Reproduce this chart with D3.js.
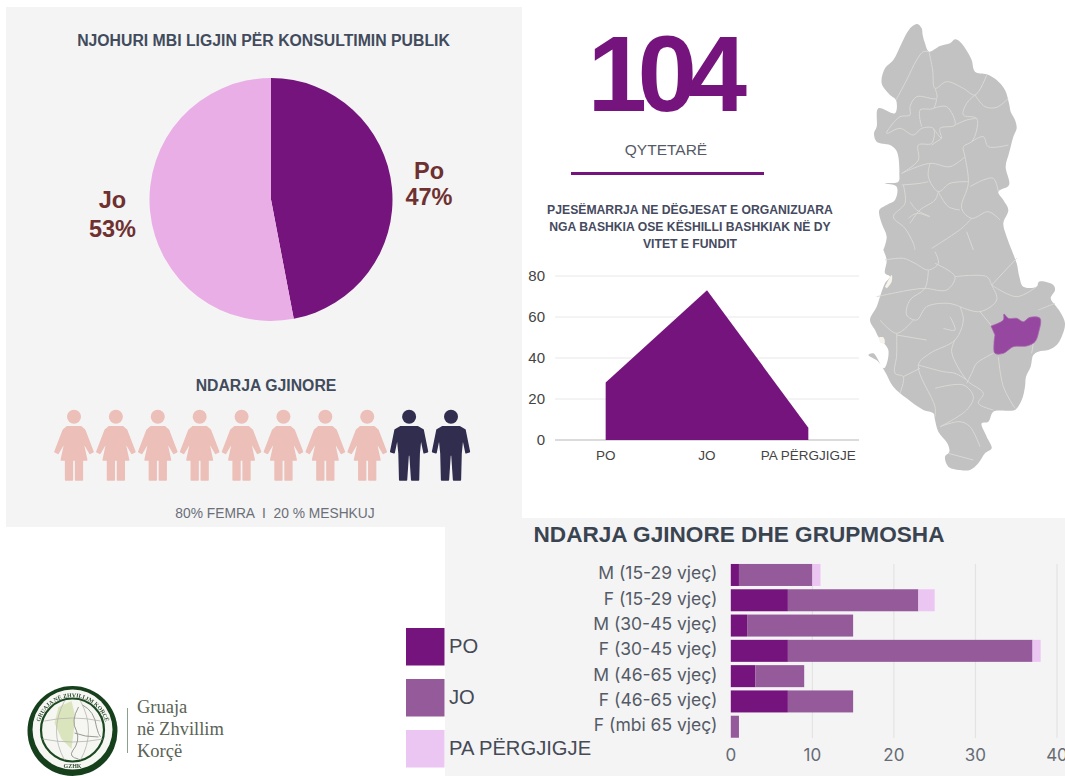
<!DOCTYPE html>
<html lang="sq">
<head>
<meta charset="utf-8">
<script src="https://cdn.jsdelivr.net/npm/d3@7/dist/d3.min.js"></script>
<style>
html,body{margin:0;padding:0;background:#fff;overflow:hidden}
svg{display:block}
text{font-family:"Liberation Sans",Arial,sans-serif}
</style>
</head>
<body>
<svg id="c" width="1065" height="776"></svg>
<script>
// ---------- data ----------
const pieLabels = ["Po", "Jo"];
const pieValues = [47, 53];
const genderIcons = ["F","F","F","F","F","F","F","F","M","M"];
const areaCategories = ["PO", "JO", "PA PËRGJIGJE"];
const areaValues = [28, 73, 6];
const areaTicks = [0, 20, 40, 60, 80];
const barCategories = ["M (15-29 vjeç)","F (15-29 vjeç)","M (30-45 vjeç)","F (30-45 vjeç)","M (46-65 vjeç)","F (46-65 vjeç)","F (mbi 65 vjeç)"];
const barPo = [1, 7, 2, 7, 3, 7, 0];
const barJo = [9, 16, 13, 30, 6, 8, 1];
const barPa = [1, 2, 0, 1, 0, 0, 0];
const barSeries = ["PO", "JO", "PA PËRGJIGJE"];
const barTicks = [0, 10, 20, 30, 40];
const seriesColors = ["#74147c", "#945a9a", "#ecc6f2"];

// map (upper part z6, lower part z7 coordinates)
const mapOutlineUpper = [[172,42],[185,55],[188,75],[195,100],[207,125],[240,108],[270,100],[285,88],[300,95],[322,125],[335,150],[345,185],[380,193],[410,210],[435,240],[448,285],[452,305],[465,330],[470,355],[460,380],[452,410],[447,430],[437,470],[447,525],[415,545],[430,570],[445,600],[430,640],[440,680],[455,720]];
const mapOutlineLower = [[470,70],[478,110],[490,140],[530,140],[537,125],[580,135],[585,150],[572,175],[585,195],[600,215],[615,250],[605,290],[590,315],[565,330],[535,335],[520,345],[512,380],[498,410],[495,440],[485,480],[465,510],[440,512],[400,515],[385,545],[365,550],[380,590],[395,625],[375,640],[355,670],[330,690],[300,690],[265,680],[255,650],[268,635],[262,610],[235,575],[225,540],[220,520],[190,510],[140,475],[100,440],[75,395],[55,365],[25,345],[40,340],[72,385],[85,330],[55,290],[45,270],[30,240],[50,200],[60,170],[75,130],[90,110],[75,100],[80,60],[70,30]];
const mapOutlineCoast = [[70,720],[80,680],[65,640],[58,600],[80,585],[105,570],[110,530],[75,520],[115,515],[118,490],[115,440],[108,420],[90,405],[50,395],[42,370],[50,350],[55,295],[105,310],[108,270],[90,255],[65,220],[75,175],[100,150],[125,100],[140,70],[155,50]];
const mapBordersUpper = [
 [[108,270],[140,210],[170,150],[190,125],[207,125]],
 [[207,125],[218,180],[225,235],[260,215],[310,235],[345,255],[380,195]],
 [[345,255],[375,290],[410,292],[445,265]],
 [[225,235],[230,265],[170,260],[150,290],[150,315],[120,320],[95,345],[80,370],[120,355],[160,375],[185,355],[220,355],[215,400],[175,405],[175,450],[125,490]],
 [[230,265],[220,295],[180,300],[185,350]],
 [[220,295],[260,290],[285,345],[240,355],[245,385],[220,355]],
 [[345,255],[320,280],[310,315],[350,325],[350,360],[335,395],[310,410],[315,440],[325,520],[305,595],[335,625],[385,605],[420,630]],
 [[285,345],[320,330],[350,325]],
 [[335,395],[370,380],[385,410],[445,405]],
 [[245,385],[215,405]],
 [[315,440],[270,470],[210,460],[125,490]],
 [[210,460],[205,500],[235,545],[270,520],[325,515]],
 [[330,530],[370,510],[400,505],[415,545]],
 [[235,545],[265,590],[300,600]],
 [[125,525],[180,520],[205,515]],
 [[130,525],[135,580],[100,620],[135,655],[160,700],[165,720]],
 [[235,545],[225,570],[180,600],[150,640]],
 [[150,575],[170,600],[210,620],[170,610],[145,625]],
 [[335,625],[305,655],[215,715]],
 [[320,665],[340,720]]
];
const mapBordersLower = [
 [[75,60],[130,55],[165,70],[205,90],[235,70],[225,35]],
 [[205,90],[195,145],[150,180],[140,225],[170,240],[200,200],[265,190],[300,200]],
 [[285,110],[380,110],[395,135],[410,180],[360,215],[300,200]],
 [[395,135],[470,55]],
 [[395,135],[470,170],[530,140]],
 [[360,215],[395,258]],
 [[50,170],[150,150],[195,145],[260,150],[285,110],[225,70]],
 [[300,200],[310,240],[285,300],[210,340],[175,375],[225,500],[225,530]],
 [[285,300],[275,335],[320,420],[370,460],[355,490],[400,510]],
 [[175,375],[250,395],[285,400],[320,420]],
 [[225,445],[310,435],[340,470],[320,510],[240,560]],
 [[400,340],[350,370],[335,400],[320,430]],
 [[415,350],[430,440],[465,505]],
 [[110,280],[110,345],[105,400],[130,410],[120,460]],
 [[110,285],[200,300]],
 [[60,240],[110,280],[160,240]],
 [[240,560],[300,545],[330,560],[360,620]],
 [[265,640],[340,660]],
 [[520,310],[515,340]],
 [[535,210],[560,200],[585,190]],
 [[130,410],[180,385]],
 [[270,230],[285,270],[250,265]]
];
const mapRegion = [[393,258],[430,240],[432,222],[445,235],[470,235],[490,245],[510,232],[540,235],[535,280],[525,305],[500,318],[460,320],[430,340],[405,340],[402,310],[405,285]];
const mapLagoons = [[[75,140],[95,105],[95,125],[80,145]],[[55,292],[70,292],[74,310],[60,308]]];

const femaleIcon = [[-20,30],[20,30],[32,40],[57,105],[48,110],[25,70],[38,130],[25,130],[25,190],[5,190],[5,130],[-5,130],[-5,190],[-25,190],[-25,130],[-38,130],[-25,70],[-48,110],[-57,105],[-32,40]];
const maleIcon = [[-25,30],[25,30],[42,40],[55,105],[45,108],[35,60],[30,110],[28,190],[8,190],[3,115],[-3,115],[-8,190],[-28,190],[-30,110],[-35,60],[-45,108],[-55,105],[-42,40]];

// ---------- setup ----------
const svg = d3.select("#c");
const PANEL = "#f4f4f5", INK = "#414b5c";
const soft = svg.append("defs").append("filter").attr("id","soft");
soft.append("feGaussianBlur").attr("stdDeviation",0.45);
const panels = [[6,7,516,520],[445,518,620,258]];
svg.selectAll("rect.panel").data(panels).join("rect").attr("class","panel")
  .attr("x",d=>d[0]).attr("y",d=>d[1]).attr("width",d=>d[2]).attr("height",d=>d[3]).attr("fill",PANEL);

function label(g,t,x,y,size,fill,opts={}){
  const n=g.append("text").attr("x",x).attr("y",y).attr("font-size",size).attr("fill",fill)
    .attr("text-anchor",opts.anchor||"middle").attr("font-weight",opts.weight||"normal").text(t);
  if(opts.family) n.style("font-family",opts.family);
  if(opts.spacing!=null) n.attr("letter-spacing",opts.spacing);
  return n;
}

// ---------- pie ----------
label(svg,"NJOHURI MBI LIGJIN PËR KONSULTIMIN PUBLIK",263.5,45.5,15.8,INK,{weight:"bold"});
const pieG = svg.append("g").attr("transform","translate(271,199.5)");
const arcs = d3.pie().sort(null)(pieValues);
const pieColors = d3.scaleOrdinal(pieLabels,["#74147c","#eaaee6"]);
pieG.selectAll("path").data(arcs).join("path")
  .attr("d",d3.arc().innerRadius(0).outerRadius(121.5))
  .attr("fill",(d,i)=>pieColors(pieLabels[i]));
const RED="#6f3030";
label(svg,pieLabels[0],429,179,23.5,RED,{weight:"bold"});
label(svg,pieValues[0]+"%",429,205,23.5,RED,{weight:"bold"});
label(svg,pieLabels[1],112.5,208,23.5,RED,{weight:"bold"});
label(svg,pieValues[1]+"%",112.5,237,23.5,RED,{weight:"bold"});

// ---------- gender icons ----------
label(svg,"NDARJA GJINORE",266,391,15.8,INK,{weight:"bold"});
const iconX = d3.scalePoint().domain(d3.range(genderIcons.length)).range([74,451]);
const iconLine = d3.line().x(d=>d[0]/3).y(d=>d[1]/3).curve(d3.curveLinearClosed);
const icons = svg.selectAll("g.icon").data(genderIcons).join("g").attr("class","icon")
  .attr("transform",(d,i)=>`translate(${iconX(i)},416.7)`)
  .attr("fill",d=>d==="F"?"#ecbfb8":"#312d4f").attr("stroke",d=>d==="F"?"#ecbfb8":"#312d4f");
icons.append("circle").attr("r",7).attr("stroke","none");
icons.append("path").attr("d",d=>iconLine(d==="F"?femaleIcon:maleIcon)).attr("stroke-width",1.6).attr("stroke-linejoin","round");
label(svg,"80% FEMRA  I  20 % MESHKUJ",275,517.5,13.8,"#6b6f78").attr("xml:space","preserve");

// ---------- headline ----------
label(svg,"104",662.5,110.5,107,"#74147c",{weight:"bold",spacing:-9.5});
label(svg,"QYTETARË",666,155,15.5,"#555a66");
svg.append("rect").attr("x",571).attr("y",172).attr("width",193).attr("height",3).attr("fill","#74147c");

// ---------- area chart ----------
["PJESËMARRJA NE DËGJESAT E ORGANIZUARA","NGA BASHKIA OSE KËSHILLI BASHKIAK NË DY","VITET E FUNDIT"].forEach((t,i)=>
  label(svg,t,690,214+i*17.2,12.2,"#454a60",{weight:"bold"}));
const ax = d3.scalePoint().domain(areaCategories).range([555,859]).padding(0.5);
const ay = d3.scaleLinear().domain([0,80]).range([440,276]);
const areaG = svg.append("g");
areaG.selectAll("line.g").data(areaTicks).join("line").attr("class","g")
  .attr("x1",555).attr("x2",859).attr("y1",d=>ay(d)).attr("y2",d=>ay(d))
  .attr("stroke",d=>d===0?"#cfcfcf":"#e8e8e8").attr("stroke-width",d=>d===0?1.4:1);
areaG.append("path").datum(areaValues)
  .attr("d",d3.area().x((d,i)=>ax(areaCategories[i])).y0(ay(0)).y1(d=>ay(d)))
  .attr("fill","#74147c");
areaG.selectAll("text.yt").data(areaTicks).join("text").attr("class","yt")
  .attr("x",545).attr("y",d=>ay(d)+5).attr("text-anchor","end").attr("font-size",15).attr("fill","#444").text(d=>d);
areaG.selectAll("text.xt").data(areaCategories).join("text").attr("class","xt")
  .attr("x",d=>ax(d)).attr("y",460).attr("text-anchor","middle").attr("font-size",13.5).attr("fill","#444").text(d=>d);

// ---------- map ----------
const mx = d3.scaleLinear().domain([0,615]).range([860,1065]);
const myU = d3.scaleLinear().domain([0,720]).range([10,250]);
const myL = d3.scaleLinear().domain([0,720]).range([240,480]);
const lineU = d3.line().x(d=>mx(d[0])).y(d=>myU(d[1])).curve(d3.curveCatmullRom);
const lineL = d3.line().x(d=>mx(d[0])).y(d=>myL(d[1])).curve(d3.curveCatmullRom);
const outlinePts = [
  ...mapOutlineUpper.map(d=>[mx(d[0]),myU(d[1])]),
  ...mapOutlineLower.map(d=>[mx(d[0]),myL(d[1])]),
  ...mapOutlineCoast.map(d=>[mx(d[0]),myU(d[1])])
];
const mapG = svg.append("g").attr("filter","url(#soft)");
mapG.append("path").attr("d",d3.line().curve(d3.curveCatmullRomClosed)(outlinePts)).attr("fill","#c2c2c2");
const borderStyle = s=>s.attr("fill","none").attr("stroke","#d9d9d6").attr("stroke-width",1).attr("stroke-linejoin","round");
mapG.selectAll("path.bu").data(mapBordersUpper).join("path").attr("class","bu").attr("d",lineU).call(borderStyle);
mapG.selectAll("path.bl").data(mapBordersLower).join("path").attr("class","bl").attr("d",lineL).call(borderStyle);
mapG.selectAll("path.lg").data(mapLagoons).join("path").attr("class","lg").attr("d",d=>lineL(d)+"Z").attr("fill","#f6f4ec");
mapG.append("path").attr("d",lineL(mapRegion)+"Z").attr("fill","#96479f").attr("stroke","#a866b0").attr("stroke-width",0.8);

// ---------- stacked bars ----------
label(svg,"NDARJA GJINORE DHE GRUPMOSHA",739,542,22.6,"#3a4450",{weight:"bold"});
const bx = d3.scaleLinear().domain([0,40]).range([730.8,1057]);
const by = d3.scaleBand().domain(barCategories).range([562.7,739]).paddingInner(0.13).paddingOuter(0.05);
const bg = svg.append("g");
bg.selectAll("line").data(barTicks.slice(1)).join("line")
  .attr("x1",d=>bx(d)).attr("x2",d=>bx(d)).attr("y1",564).attr("y2",738)
  .attr("stroke","#e3e3e3").attr("stroke-width",1.2);
const rows = barCategories.map((c,i)=>({c,PO:barPo[i],JO:barJo[i],"PA PËRGJIGJE":barPa[i]}));
const stacks = d3.stack().keys(barSeries)(rows);
bg.selectAll("g.s").data(stacks).join("g").attr("class","s").attr("fill",(d,i)=>seriesColors[i])
  .selectAll("rect").data(d=>d).join("rect")
  .attr("x",d=>bx(d[0])).attr("width",d=>bx(d[1])-bx(d[0]))
  .attr("y",d=>by(d.data.c)).attr("height",by.bandwidth());
const UI='Inter,"Liberation Sans",sans-serif';
bg.selectAll("text.cat").data(barCategories).join("text").attr("class","cat")
  .attr("x",717.5).attr("y",d=>by(d)+by.bandwidth()/2+4.5).attr("text-anchor","end")
  .attr("font-size",17.5).attr("fill","#555b66").style("font-family",UI).text(d=>d);
bg.selectAll("text.xt").data(barTicks).join("text").attr("class","xt")
  .attr("x",d=>bx(d)).attr("y",761).attr("text-anchor","middle")
  .attr("font-size",17).attr("fill","#666b74").style("font-family",UI).text(d=>d);

// ---------- legend ----------
const legendY = d3.scalePoint().domain(barSeries).range([628,730]);
const lg = svg.append("g");
lg.selectAll("rect").data(barSeries).join("rect")
  .attr("x",406).attr("y",d=>legendY(d)).attr("width",38.5).attr("height",37.5)
  .attr("fill",(d,i)=>seriesColors[i]);
lg.selectAll("text").data(barSeries).join("text")
  .attr("x",449).attr("y",d=>legendY(d)+24.5).attr("font-size",20.2).attr("fill","#454a55").text(d=>d);

// ---------- logo ----------
const logo = svg.append("g").attr("transform","translate(72.5,731)").attr("filter","url(#soft)");
logo.append("circle").attr("r",45).attr("fill","#173f1f");
logo.append("circle").attr("cy",-1.5).attr("r",40).attr("fill","#f6f7f2");
logo.append("circle").attr("cy",-1).attr("r",31.5).attr("fill","none").attr("stroke","#1c4a24").attr("stroke-width",2.2);
logo.append("path").attr("d","M-14,-24 L-1,-30 L2,-18 L2,-6 L-1,18 L-11,8 L-18,-8 Z").attr("fill","#dbe5bd");
logo.append("g").attr("fill","none").attr("stroke","#b5b5b0").attr("stroke-width",0.8).selectAll("path")
  .data(["M-28,-10 Q0,-16 28,-10","M-30,8 Q0,14 30,8","M-8,-30 Q-24,0 -8,29","M8,-30 Q24,0 8,29"]).join("path").attr("d",d=>d);
logo.append("g").attr("fill","none").attr("stroke","#9a9a94").attr("stroke-width",1).selectAll("path")
  .data(["M6,-24 Q-2,-10 4,0 Q8,10 0,20 Q-4,26 6,28","M10,-26 Q22,-20 24,-4 Q26,4 28,6","M2,2 Q12,6 26,6"]).join("path").attr("d",d=>d);
logo.append("defs").append("path").attr("id","logoArc").attr("d","M-33.5,6 A34,34 0 1 1 33.5,6");
logo.append("text").attr("font-size",5.8).attr("font-weight","bold").attr("fill","#2e4a30").style("font-family",'"Liberation Serif",serif')
  .append("textPath").attr("href","#logoArc").attr("startOffset","50%").attr("text-anchor","middle").text("GRUAJA NË ZHVILLIM KORÇË");
label(logo,"GZHK",0,37,6,"#2e4a30",{weight:"bold",family:'"Liberation Serif",serif'});
svg.append("line").attr("x1",127.5).attr("x2",127.5).attr("y1",708).attr("y2",753).attr("stroke","#8aa28c").attr("stroke-width",1);
const SERIF='"Liberation Serif",serif';
["Gruaja","në Zhvillim","Korçë"].forEach((t,i)=>
  label(svg,t,137,713+i*22,18.5,"#5a6355",{anchor:"start",family:SERIF}));
</script>
</body>
</html>
